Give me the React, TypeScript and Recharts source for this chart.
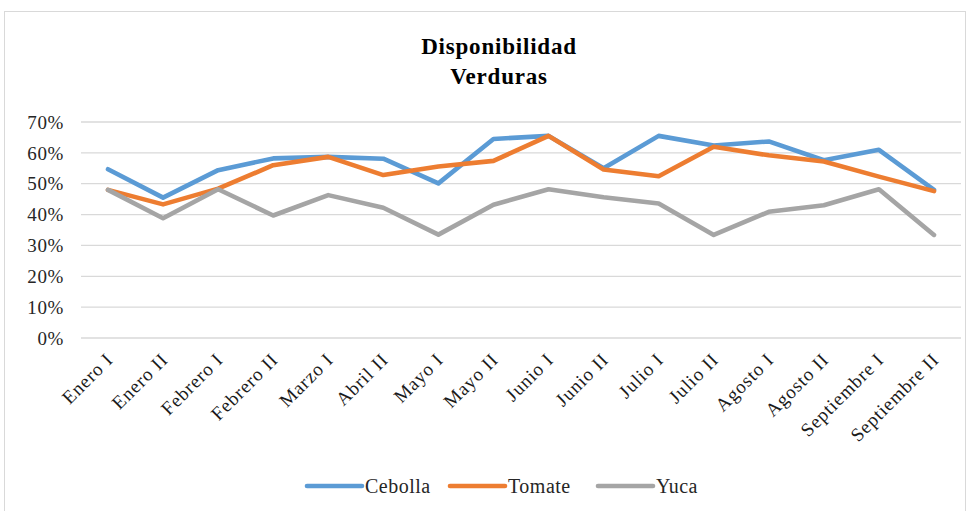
import React from "react";
import { LineChart, Line, XAxis, YAxis, CartesianGrid } from "recharts";

const categories = ["Enero I","Enero II","Febrero I","Febrero II","Marzo I","Abril II","Mayo I","Mayo II","Junio I","Junio II","Julio I","Julio II","Agosto I","Agosto II","Septiembre I","Septiembre II"];
const cebolla = [54.7,45.5,54.4,58.2,58.7,58.1,50.1,64.5,65.5,55.0,65.5,62.4,63.7,57.6,61.0,48.0];
const tomate = [48.0,43.3,48.4,56.0,58.7,52.8,55.6,57.4,65.5,54.6,52.4,62.0,59.2,57.2,52.3,47.6];
const yuca = [48.0,38.8,48.2,39.7,46.3,42.2,33.5,43.2,48.2,45.6,43.6,33.4,40.9,43.0,48.2,33.4];
const yTicks = [0,10,20,30,40,50,60,70];
const seriesNames = ["Cebolla","Tomate","Yuca"];
const colors = ["#5B9BD5","#ED7D31","#A5A5A5"];
const titleLines = ["Disponibilidad", "Verduras"];

const data = categories.map((c, i) => ({ cat: c, Cebolla: cebolla[i], Tomate: tomate[i], Yuca: yuca[i] }));

const FONT = "Liberation Serif";

const XTick = (props: any) => {
  const { x, y, payload } = props;
  return (
    <g transform={`translate(${x + 6},${y + 15})`}>
      <text x={0} y={0} textAnchor="end" fontSize={19} letterSpacing={0.9} fill="#1a1a1a" fontFamily={FONT} transform="rotate(-45)">
        {payload.value}
      </text>
    </g>
  );
};

const legendStarts = [307, 450, 598];

export default function App() {
  return (
    <div style={{ position: "absolute", left: 0, top: 0, width: 975, height: 511, background: "#fff", overflow: "hidden" }}>
      <div style={{ position: "absolute", left: 4, top: 11, width: 962, height: 510, border: "1px solid #d9d9d9", boxSizing: "border-box" }} />
      <div style={{ position: "absolute", left: 0, top: 0 }}>
        <LineChart width={975} height={511} data={data} margin={{ top: 122, right: 14, bottom: 53, left: 0 }}>
          <CartesianGrid vertical={false} stroke="#d9d9d9" strokeWidth={1.3} />
          <XAxis dataKey="cat" axisLine={false} tickLine={false} interval={0} height={120} tick={<XTick />} padding={{ left: 27, right: 27 }} />
          <YAxis domain={[0, 70]} ticks={yTicks} width={81} axisLine={false} tickLine={false} tickSize={0} tickMargin={17}
            tickFormatter={(v: number) => `${v}%`} tick={{ fontSize: 19, letterSpacing: 0.6, fill: "#262626", fontFamily: FONT }} />
          {seriesNames.map((n, i) => (
            <Line key={n} type="linear" dataKey={n} stroke={colors[i]} strokeWidth={4.6} dot={false}
              strokeLinejoin="round" strokeLinecap="round" isAnimationActive={false} />
          ))}
        </LineChart>
      </div>
      <svg width={975} height={511} style={{ position: "absolute", left: 0, top: 0, pointerEvents: "none" }}>
        {titleLines.map((t, i) => (
          <text key={t} x={499} y={54 + i * 30} textAnchor="middle" fontFamily={FONT} fontWeight="bold" fontSize={23} letterSpacing={0.8} fill="#000">
            {t}
          </text>
        ))}
        {seriesNames.map((n, i) => (
          <g key={n}>
            <line x1={legendStarts[i]} y1={486} x2={legendStarts[i] + 55} y2={486} stroke={colors[i]} strokeWidth={4.6} strokeLinecap="round" />
            <text x={legendStarts[i] + 58} y={493} fontFamily={FONT} fontSize={20} letterSpacing={0.5} fill="#262626">{n}</text>
          </g>
        ))}
      </svg>
    </div>
  );
}
